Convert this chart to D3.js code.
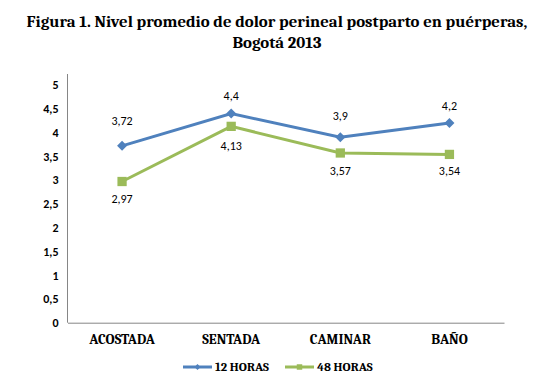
<!DOCTYPE html>
<html>
<head>
<meta charset="utf-8">
<script src="https://cdn.jsdelivr.net/npm/d3@7.9.0/dist/d3.min.js"></script>
<style>
  body { margin: 0; background: #fff; }
  svg text { fill: #000; }
</style>
</head>
<body>
<svg id="chart" width="539" height="386"></svg>
<script>
// ---- data ----
const categories = ['ACOSTADA', 'SENTADA', 'CAMINAR', 'BAÑO'];
const horas12 = [3.72, 4.4, 3.9, 4.2];
const horas48 = [2.97, 4.13, 3.57, 3.54];
const seriesNames = ['12 HORAS', '48 HORAS'];
const yTicks = [0, 0.5, 1, 1.5, 2, 2.5, 3, 3.5, 4, 4.5, 5];

// label offsets (layout only, px from the point)
const labelDy12 = [-24, -16, -20, -16];
const labelDy48 = [19, 21, 19, 18];

const blue = '#4F81BD', green = '#9BBB59';
const serif = 'Cambria, "DejaVu Serif", serif';
const sans = 'Calibri, "Open Sans", "Liberation Sans", sans-serif';

const svg = d3.select('#chart');

// title
svg.append('text').attr('x', 277).attr('y', 27).attr('text-anchor', 'middle')
  .style('font-family', serif).style('font-weight', 'bold').style('font-size', '16.8px')
  .text('Figura 1. Nivel promedio de dolor perineal postparto en puérperas,');
svg.append('text').attr('x', 277).attr('y', 48).attr('text-anchor', 'middle')
  .style('font-family', serif).style('font-weight', 'bold').style('font-size', '16.8px')
  .text('Bogotá 2013');

// scales
const x = d3.scaleBand().domain(categories).range([67.5, 504]);
const y = d3.scaleLinear().domain([0, 5]).range([322.7, 85]);

// y axis
const yAxis = svg.append('g').attr('transform', 'translate(67.5,0)')
  .call(d3.axisLeft(y).tickValues(yTicks).tickSize(0).tickPadding(9)
    .tickFormat(d => String(d).replace('.', ',')));
yAxis.select('.domain').attr('d', 'M0,74V322.7').attr('stroke', '#868686');
yAxis.selectAll('text').style('font-family', sans).style('font-weight', 'bold')
  .style('font-size', '12px');

// x axis
const xAxis = svg.append('g').attr('transform', 'translate(0,322.7)')
  .call(d3.axisBottom(x).tickSize(0).tickPadding(11));
xAxis.select('.domain').attr('stroke', '#868686');
xAxis.selectAll('text').style('font-family', serif).style('font-weight', 'bold')
  .style('font-size', '14px');

const cx = c => x(c) + x.bandwidth() / 2;
const line = d3.line().x((d, i) => cx(categories[i])).y(d => y(d));

// series
const series = [
  { name: seriesNames[0], values: horas12, color: blue, shape: d3.symbolDiamond2, size: 64, dy: labelDy12 },
  { name: seriesNames[1], values: horas48, color: green, shape: d3.symbolSquare, size: 86, dy: labelDy48 }
];

series.forEach(s => {
  svg.append('path').datum(s.values).attr('d', line)
    .attr('fill', 'none').attr('stroke', s.color).attr('stroke-width', 3);
  svg.selectAll(null).data(s.values).enter().append('path')
    .attr('d', d3.symbol().type(s.shape).size(s.size))
    .attr('transform', (d, i) => `translate(${cx(categories[i])},${y(d)})`)
    .attr('fill', s.color);
  svg.selectAll(null).data(s.values).enter().append('text')
    .attr('x', (d, i) => cx(categories[i]))
    .attr('y', (d, i) => y(d) + s.dy[i])
    .attr('text-anchor', 'middle').attr('dominant-baseline', 'middle')
    .style('font-family', sans).style('font-size', '12px')
    .text(d => String(d).replace('.', ','));
});

// legend
const legendX = [183, 285];
series.forEach((s, i) => {
  const g = svg.append('g').attr('transform', `translate(${legendX[i]},367)`);
  g.append('line').attr('x1', 0).attr('x2', 29).attr('stroke', s.color).attr('stroke-width', 3);
  g.append('path').attr('d', d3.symbol().type(s.shape).size(s.size * 0.35))
    .attr('transform', 'translate(14.5,0)').attr('fill', s.color);
  g.append('text').attr('x', 32).attr('y', 0.5).attr('dominant-baseline', 'middle')
    .style('font-family', serif).style('font-weight', 'bold').style('font-size', '12.5px')
    .text(s.name);
});
</script>
</body>
</html>
